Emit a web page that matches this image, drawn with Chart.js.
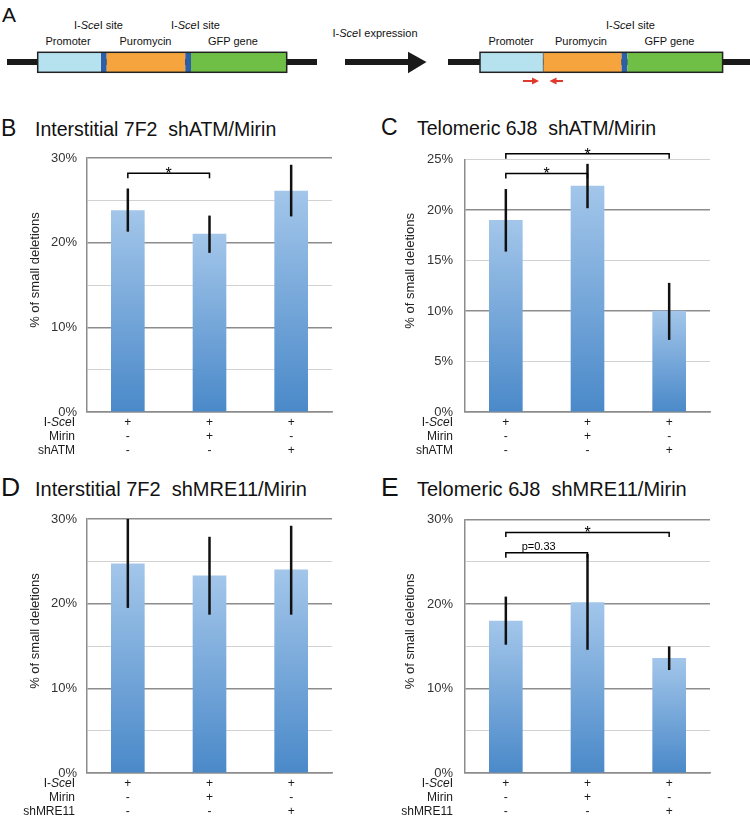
<!DOCTYPE html>
<html>
<head>
<meta charset="utf-8">
<script src="https://cdn.jsdelivr.net/npm/chart.js@4.4.1/dist/chart.umd.min.js"></script>
<style>
  body { margin: 0; background: #fff; }
  #page { position: relative; width: 750px; height: 822px; overflow: hidden; font-family: "Liberation Sans", Arial, sans-serif; }
  .abs { position: absolute; }
  svg text { font-family: "Liberation Sans", Arial, sans-serif; fill: #111; }
</style>
</head>
<body>
<div id="page">
  <!-- panel A schematic and panel titles -->
  <svg class="abs" style="left:0;top:0" width="750" height="822">
    <text x="2" y="22" font-size="21">A</text>

    <!-- before -->
    <line x1="7" y1="62" x2="317" y2="62" stroke="#1a1a1a" stroke-width="6"/>
    <rect x="37.7" y="52.3" width="63.3" height="20" fill="#b6e1ee"/>
    <rect x="101" y="52.3" width="5.7" height="20" fill="#2d5ea8"/>
    <rect x="106.7" y="52.3" width="78.6" height="20" fill="#f6a43d"/>
    <rect x="185.3" y="52.3" width="5.7" height="20" fill="#2d5ea8"/>
    <rect x="191" y="52.3" width="95.7" height="20" fill="#6fbe46"/>
    <rect x="37.7" y="52.3" width="249" height="20" fill="none" stroke="#222" stroke-width="1.5"/>
    <text x="98.5" y="29" font-size="11" text-anchor="middle">I-<tspan font-style="italic">Sce</tspan>I site</text>
    <text x="195.5" y="29" font-size="11" text-anchor="middle">I-<tspan font-style="italic">Sce</tspan>I site</text>
    <text x="68" y="45" font-size="11" text-anchor="middle">Promoter</text>
    <text x="145.5" y="45" font-size="11" text-anchor="middle">Puromycin</text>
    <text x="233" y="45" font-size="11" text-anchor="middle">GFP gene</text>

    <!-- arrow -->
    <text x="375" y="37" font-size="11" text-anchor="middle">I-<tspan font-style="italic">Sce</tspan>I expression</text>
    <line x1="345" y1="62" x2="410" y2="62" stroke="#1a1a1a" stroke-width="6"/>
    <polygon points="408,51.7 426.5,62 408,73.3" fill="#1a1a1a"/>

    <!-- after -->
    <line x1="448" y1="62" x2="750" y2="62" stroke="#1a1a1a" stroke-width="6"/>
    <rect x="480" y="52.3" width="63.3" height="20" fill="#b6e1ee"/>
    <rect x="543.3" y="52.3" width="78.3" height="20" fill="#f6a43d"/>
    <rect x="621.6" y="52.3" width="5.8" height="20" fill="#2d5ea8"/>
    <rect x="627.4" y="52.3" width="95.2" height="20" fill="#6fbe46"/>
    <rect x="480" y="52.3" width="242.6" height="20" fill="none" stroke="#222" stroke-width="1.5"/>
    <line x1="543.3" y1="52.3" x2="543.3" y2="72.3" stroke="#555" stroke-width="0.8"/>
    <text x="630.5" y="29" font-size="11" text-anchor="middle">I-<tspan font-style="italic">Sce</tspan>I site</text>
    <text x="511" y="45" font-size="11" text-anchor="middle">Promoter</text>
    <text x="581" y="45" font-size="11" text-anchor="middle">Puromycin</text>
    <text x="669.5" y="45" font-size="11" text-anchor="middle">GFP gene</text>
    <line x1="523" y1="81" x2="533" y2="81" stroke="#e0392e" stroke-width="2"/>
    <polygon points="532,77.5 539,81 532,84.5" fill="#e0392e"/>
    <line x1="556" y1="81" x2="563" y2="81" stroke="#e0392e" stroke-width="2"/>
    <polygon points="556.5,77.5 549.5,81 556.5,84.5" fill="#e0392e"/>

    <!-- panel titles -->
    <text x="1" y="136" font-size="23">B</text>
    <text x="35" y="136" font-size="19.5" xml:space="preserve">Interstitial 7F2  shATM/Mirin</text>
    <text x="381" y="135" font-size="23">C</text>
    <text x="417" y="135" font-size="19.5" xml:space="preserve">Telomeric 6J8  shATM/Mirin</text>
    <text x="1" y="496" font-size="26.5">D</text>
    <text x="35" y="496" font-size="20" xml:space="preserve">Interstitial 7F2  shMRE11/Mirin</text>
    <text x="381" y="496" font-size="26.5">E</text>
    <text x="417" y="496" font-size="20" xml:space="preserve">Telomeric 6J8  shMRE11/Mirin</text>
  </svg>

  <canvas id="chartB" class="abs" style="left:0;top:140px" width="375" height="322"></canvas>
  <canvas id="chartC" class="abs" style="left:375px;top:140px" width="375" height="322"></canvas>
  <canvas id="chartD" class="abs" style="left:0;top:500px" width="375" height="323"></canvas>
  <canvas id="chartE" class="abs" style="left:375px;top:500px" width="375" height="323"></canvas>
</div>

<script>
// conditions under each bar
const sceI = ['+', '+', '+'];
const mirin = ['-', '+', '-'];
const knockdown = ['-', '-', '+'];
const rowNamesATM = ['I-SceI', 'Mirin', 'shATM'];
const rowNamesMRE11 = ['I-SceI', 'Mirin', 'shMRE11'];

// B - interstitial 7F2, shATM/Mirin (% small deletions)
const valuesB = [23.8, 21.0, 26.1];
const errHighB = [26.4, 23.2, 29.2];
const errLowB = [21.3, 18.8, 23.1];

// C - telomeric 6J8, shATM/Mirin
const valuesC = [19.0, 22.4, 10.0];
const errHighC = [22.1, 24.6, 12.8];
const errLowC = [15.9, 20.2, 7.15];

// D - interstitial 7F2, shMRE11/Mirin
const valuesD = [24.7, 23.3, 24.0];
const errHighD = [30.0, 27.9, 29.2];
const errLowD = [19.5, 18.7, 18.7];

// E - telomeric 6J8, shMRE11/Mirin
const valuesE = [18.0, 20.2, 13.6];
const errHighE = [20.9, 25.95, 15.0];
const errLowE = [15.2, 14.6, 12.2];

// y tick labels
const ticks30 = [0, 10, 20, 30];
const ticks25 = [0, 5, 10, 15, 20, 25];

// significance brackets (bar index from/to, height in %)
const bracketsB = [{ from: 0, to: 1, y: 28.2, drop: 0.6, text: '*' }];
const bracketsC = [{ from: 0, to: 2, y: 25.6, drop: 0.5, text: '*' },
                   { from: 0, to: 1, y: 23.65, drop: 0.5, text: '*' }];
const bracketsD = [];
const bracketsE = [{ from: 0, to: 2, y: 28.5, drop: 0.55, text: '*' },
                   { from: 0, to: 1, y: 26.1, drop: 0.6, text: 'p=0.33' }];

const FONT = '"Liberation Sans", Arial, sans-serif';
Chart.defaults.font.family = FONT;

function barGradient(c) {
  const chart = c.chart;
  const area = chart.chartArea;
  if (!area || c.type !== 'data') return '#76a8dc';
  const top = chart.scales.y.getPixelForValue(c.raw);
  const g = chart.ctx.createLinearGradient(0, top, 0, area.bottom);
  g.addColorStop(0, '#a3c6ea');
  g.addColorStop(1, '#4a89c9');
  return g;
}

// draws I-SceI with the italic part
function drawRowName(ctx, name, xr, y) {
  const parts = name === 'I-SceI' ? [['I-', ''], ['Sce', 'italic '], ['I', '']] : [[name, '']];
  let w = 0;
  parts.forEach(p => { ctx.font = p[1] + '12px ' + FONT; w += ctx.measureText(p[0]).width; });
  let x = xr - w;
  ctx.textAlign = 'left';
  parts.forEach(p => {
    ctx.font = p[1] + '12px ' + FONT;
    ctx.fillText(p[0], x, y);
    x += ctx.measureText(p[0]).width;
  });
}

function extras(cfg) {
  return {
    id: 'extras',
    afterDatasetsDraw(chart) {
      const ctx = chart.ctx;
      const a = chart.chartArea;
      const x = chart.scales.x, y = chart.scales.y;
      ctx.save();

      // error bars
      ctx.strokeStyle = '#111';
      ctx.lineWidth = 2.5;
      cfg.values.forEach((v, i) => {
        const px = x.getPixelForValue(i);
        ctx.beginPath();
        ctx.moveTo(px, y.getPixelForValue(cfg.errHigh[i]));
        ctx.lineTo(px, y.getPixelForValue(cfg.errLow[i]));
        ctx.stroke();
      });

      // brackets
      ctx.strokeStyle = '#000';
      ctx.fillStyle = '#000';
      ctx.lineWidth = 1.5;
      ctx.textAlign = 'center';
      ctx.textBaseline = 'alphabetic';
      cfg.brackets.forEach(b => {
        const x1 = x.getPixelForValue(b.from), x2 = x.getPixelForValue(b.to);
        const yt = y.getPixelForValue(b.y), yb = y.getPixelForValue(b.y - b.drop);
        ctx.beginPath();
        ctx.moveTo(x1, yb);
        ctx.lineTo(x1, yt);
        ctx.lineTo(x2, yt);
        ctx.lineTo(x2, yb);
        ctx.stroke();
        if (b.text === '*') {
          ctx.font = '16px ' + FONT;
          ctx.fillText(b.text, (x1 + x2) / 2, yt + 6);
        } else {
          ctx.font = '11px ' + FONT;
          ctx.fillText(b.text, (x1 + x2) / 2 - 8, yt - 2.5);
        }
      });

      // row names left of the +/- rows
      ctx.fillStyle = '#1a1a1a';
      ctx.textBaseline = 'middle';
      cfg.rowNames.forEach((name, i) => {
        drawRowName(ctx, name, a.left - 12, a.bottom + 4 + 14 * (i + 0.5));
      });

      // y axis title
      ctx.font = '13px ' + FONT;
      ctx.fillStyle = '#222';
      ctx.textAlign = 'center';
      ctx.translate(35, (a.top + a.bottom) / 2 - 15);
      ctx.rotate(-Math.PI / 2);
      ctx.fillText('% of small deletions', 0, 0);
      ctx.restore();
    }
  };
}

function makeChart(id, cfg) {
  return new Chart(document.getElementById(id), {
    type: 'bar',
    data: {
      labels: sceI.map((s, i) => [s, mirin[i], knockdown[i]]),
      datasets: [{
        data: cfg.values,
        backgroundColor: barGradient,
        borderWidth: 0,
        barThickness: 33
      }]
    },
    options: {
      responsive: false,
      animation: false,
      events: [],
      layout: { padding: { top: cfg.padTop, right: cfg.padRight, left: 0, bottom: 0 } },
      plugins: { legend: { display: false }, tooltip: { enabled: false } },
      scales: {
        x: {
          grid: { display: false, drawTicks: false },
          border: { display: true, color: '#8c8c8c', width: 1.5 },
          ticks: { padding: 4, color: '#1a1a1a', maxRotation: 0, autoSkip: false,
                   font: { size: 12, lineHeight: '14px' } },
          afterFit: s => { s.height = 50; }
        },
        y: {
          min: 0,
          max: cfg.max,
          ticks: {
            stepSize: 5,
            padding: cfg.tickPad,
            color: '#333',
            font: { size: 13 },
            callback: v => cfg.labelled.includes(v) ? v + '%' : ''
          },
          grid: {
            drawTicks: false,
            color: c => c.tick && c.tick.value % 10 === 0 ? '#8c8c8c' : '#d2d2d2',
            lineWidth: c => c.tick && c.tick.value % 10 === 0 ? 1.6 : 1
          },
          border: { display: true, color: '#8c8c8c', width: 1.5 },
          afterFit: s => { s.width = cfg.axisWidth; }
        }
      }
    },
    plugins: [extras(cfg)]
  });
}

makeChart('chartB', { values: valuesB, errHigh: errHighB, errLow: errLowB, brackets: bracketsB,
  rowNames: rowNamesATM, max: 30, labelled: ticks30, padTop: 18, padRight: 43, axisWidth: 87, tickPad: 10 });
makeChart('chartC', { values: valuesC, errHigh: errHighC, errLow: errLowC, brackets: bracketsC,
  rowNames: rowNamesATM, max: 25, labelled: ticks25, padTop: 18, padRight: 40, axisWidth: 90, tickPad: 12 });
makeChart('chartD', { values: valuesD, errHigh: errHighD, errLow: errLowD, brackets: bracketsD,
  rowNames: rowNamesMRE11, max: 30, labelled: ticks30, padTop: 19, padRight: 43, axisWidth: 87, tickPad: 10 });
makeChart('chartE', { values: valuesE, errHigh: errHighE, errLow: errLowE, brackets: bracketsE,
  rowNames: rowNamesMRE11, max: 30, labelled: ticks30, padTop: 19, padRight: 40, axisWidth: 90, tickPad: 12 });
</script>
</body>
</html>
